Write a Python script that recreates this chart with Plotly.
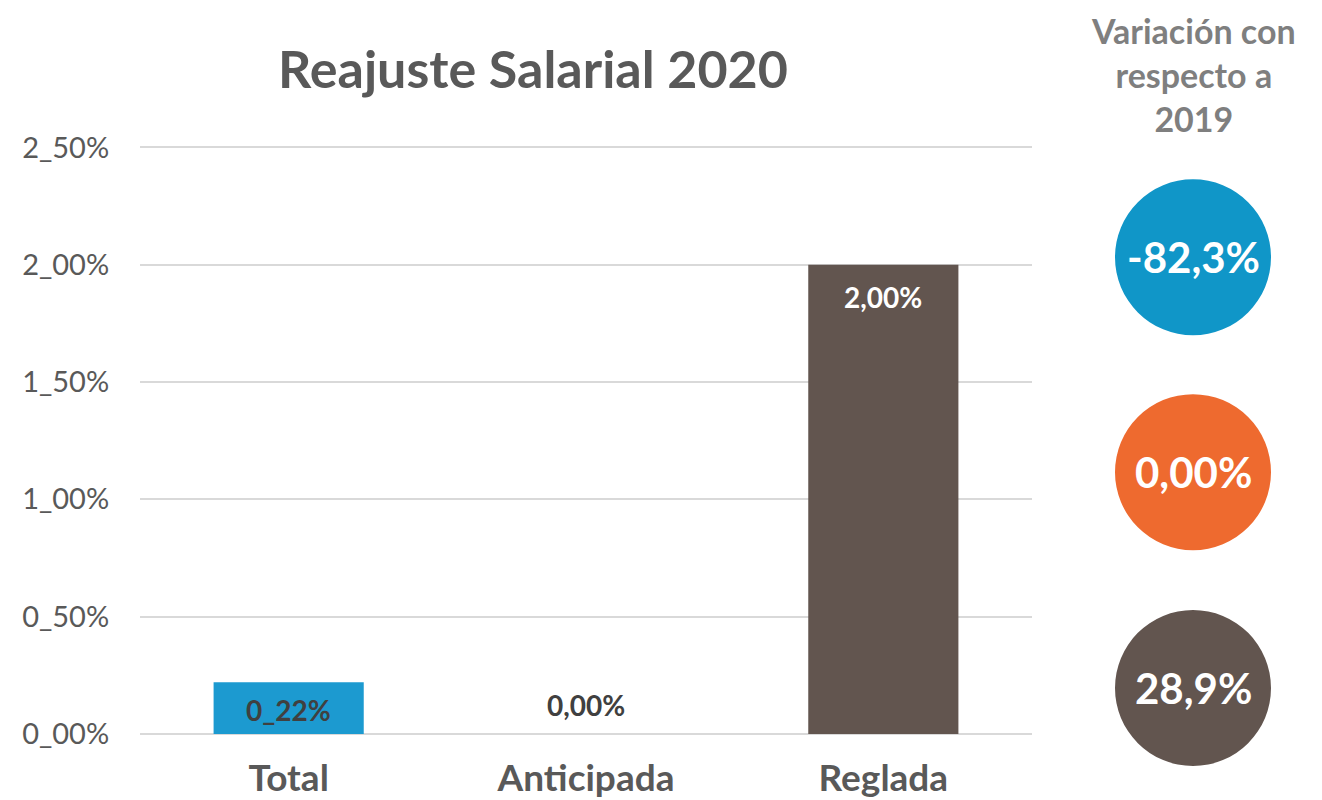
import plotly.graph_objects as go

categories = ["Total", "Anticipada", "Reglada"]
values = [0.22, 0.00, 2.00]
value_labels = ["0_22%", "0,00%", "2,00%"]
bar_colors = ["#1C9AD0", "#EE6A2F", "#62554F"]
label_colors = ["#404040", "#404040", "#FFFFFF"]
label_shift_px = [-28, 29, -32]   # label offset from bar top (style)

tick_vals = [0, 0.5, 1.0, 1.5, 2.0, 2.5]
tick_text = ["0_00%", "0_50%", "1_00%", "1_50%", "2_00%", "2_50%"]

variation_labels = ["-82,3%", "0,00%", "28,9%"]
variation_colors = ["#1096C8", "#EE6A2F", "#62554F"]
variation_title = "Variación con<br>respecto a<br>2019"
chart_title = "Reajuste Salarial 2020"

FONT = "Lato"
OFF = 8                      # page body margin in the browser
W, H = 1322 - OFF, 800 - OFF
# plot area in page pixels
PL, PR, PB = 140, 1032, 734
YMAX = 2.51
PX_PER_UNIT = (734 - 147) / 2.5
PT = PB - YMAX * PX_PER_UNIT

ml, mr = PL - OFF, W - (PR - OFF)
mb, mt = H - (PB - OFF), PT - OFF


def px_to_paper(px, py):
    return ((px - PL) / (PR - PL), (PB - py) / (PB - PT))


fig = go.Figure()
for i, cat in enumerate(categories):
    fig.add_trace(go.Bar(
        x=[cat], y=[values[i]],
        marker=dict(color=bar_colors[i], line=dict(width=0)),
        width=0.505,
        showlegend=False,
        hoverinfo="skip",
    ))
    fig.add_annotation(x=cat, y=values[i], text=value_labels[i], showarrow=False,
                       xanchor="center", yanchor="middle", yshift=label_shift_px[i],
                       font=dict(family=FONT, size=28, color=label_colors[i], weight="bold"))

fig.update_layout(
    width=W, height=H,
    paper_bgcolor="white", plot_bgcolor="white",
    barmode="overlay",
    margin=dict(l=ml, r=mr, t=mt, b=mb, autoexpand=False),
    title=dict(text=chart_title, xref="container", yref="container",
               x=(533 - OFF) / W, xanchor="center", y=1 - (70 - OFF) / H, yanchor="middle",
               font=dict(family=FONT, size=52, color="#595959", weight="bold")),
    xaxis=dict(categoryorder="array", categoryarray=categories,
               showgrid=False, showline=False, zeroline=False,
               ticks="outside", ticklen=12, tickcolor="rgba(0,0,0,0)",
               tickfont=dict(family=FONT, size=37, color="#595959", weight="bold")),
    yaxis=dict(range=[0, YMAX], tickvals=tick_vals, ticktext=tick_text,
               showgrid=True, gridcolor="#D9D9D9", gridwidth=1.5,
               zeroline=True, zerolinecolor="#D9D9D9", zerolinewidth=2,
               showline=False, ticks="outside", ticklen=24, tickcolor="rgba(0,0,0,0)",
               tickfont=dict(family=FONT, size=29, color="#595959")),
)

# right-hand header, top-aligned to the top of the figure
hx, hy = px_to_paper(1193, OFF)
fig.add_annotation(text=variation_title, xref="paper", yref="paper",
                   x=hx, y=hy, xanchor="center", yanchor="top",
                   showarrow=False, align="center",
                   font=dict(family=FONT, size=34, color="#7F7F7F", weight="bold"))

circle_y = [257, 472, 688]
R = 78
for lbl, col, cy in zip(variation_labels, variation_colors, circle_y):
    xp, yp = px_to_paper(1193, cy)
    fig.add_shape(type="circle", xref="paper", yref="paper",
                  xsizemode="pixel", ysizemode="pixel", xanchor=xp, yanchor=yp,
                  x0=-R, x1=R, y0=-R, y1=R,
                  fillcolor=col, line=dict(width=0), layer="above")
    fig.add_annotation(text=lbl, xref="paper", yref="paper", x=xp, y=yp,
                       xanchor="center", yanchor="middle", showarrow=False,
                       font=dict(family=FONT, size=42, color="white", weight="bold"))

fig.write_html("out.html")
